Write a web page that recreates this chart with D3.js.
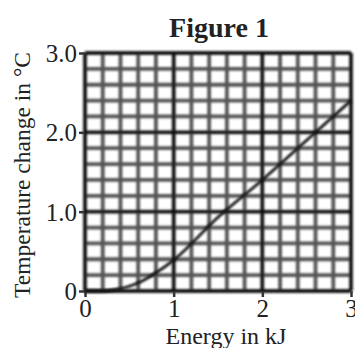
<!DOCTYPE html>
<html>
<head>
<meta charset="utf-8">
<script src="https://cdn.jsdelivr.net/npm/d3@7"></script>
<style>
body { margin: 0; background: #fff; }
text { font-family: "Liberation Serif", "DejaVu Serif", serif; fill: #222; }
</style>
</head>
<body>
<div id="chart"></div>
<script>
// values
var energy = [0, 0.2, 0.35, 0.5, 0.65, 0.8, 1.0, 1.5, 2.0, 2.5, 3.0];
var tempChange = [0, 0.0, 0.02, 0.06, 0.13, 0.23, 0.39, 0.93, 1.4, 1.9, 2.4];
var xTicks = [0, 1, 2, 3];
var yTicks = [0, 1, 2, 3];
var yTickLabels = ["0", "1.0", "2.0", "3.0"];

var totalWidth = 355, totalHeight = 348;
var margin = { top: 53, left: 85, bottom: 57, right: 4 };
var width = totalWidth - margin.left - margin.right;
var height = totalHeight - margin.top - margin.bottom;

var svg = d3.select("#chart").append("svg")
	.attr("width", totalWidth)
	.attr("height", totalHeight);

var defs = svg.append("defs");
defs.append("filter").attr("id", "soft")
	.append("feGaussianBlur").attr("stdDeviation", 1.0);

var g = svg.append("g")
	.attr("transform", "translate(" + margin.left + "," + margin.top + ")");

var xScale = d3.scaleLinear().domain([0, 3]).range([0, width]);
var yScale = d3.scaleLinear().domain([0, 3]).range([height, 0]);

var minorX = d3.range(0, 3.001, 0.2);
var minorY = d3.range(0, 3.001, 0.2);

var grid = g.append("g").attr("filter", "url(#soft)");

grid.selectAll(".vminor")
	.data(minorX)
	.enter().append("line")
	.attr("x1", d => xScale(d)).attr("x2", d => xScale(d))
	.attr("y1", 0).attr("y2", height)
	.attr("stroke", "#555")
	.attr("stroke-width", 3.8);

grid.selectAll(".hminor")
	.data(minorY)
	.enter().append("line")
	.attr("x1", 0).attr("x2", width)
	.attr("y1", d => yScale(d)).attr("y2", d => yScale(d))
	.attr("stroke", "#555")
	.attr("stroke-width", 3.8);

grid.selectAll(".vmajor")
	.data(xTicks)
	.enter().append("line")
	.attr("x1", d => xScale(d)).attr("x2", d => xScale(d))
	.attr("y1", 0).attr("y2", height)
	.attr("stroke", "#111")
	.attr("stroke-width", 3.4);

grid.selectAll(".hmajor")
	.data(yTicks)
	.enter().append("line")
	.attr("x1", 0).attr("x2", width)
	.attr("y1", d => yScale(d)).attr("y2", d => yScale(d))
	.attr("stroke", "#111")
	.attr("stroke-width", 3.4);

// axes
var xAxis = d3.axisBottom(xScale).tickValues(xTicks).tickSize(6).tickPadding(2)
	.tickFormat(d3.format("d"));
var yAxis = d3.axisLeft(yScale).tickValues(yTicks).tickSize(6).tickPadding(2)
	.tickFormat((d, i) => yTickLabels[i]);

var xAxisGroup = g.append("g")
	.attr("transform", "translate(0," + height + ")")
	.call(xAxis);
xAxisGroup.select(".domain").remove();
xAxisGroup.selectAll(".tick line").attr("stroke", "#333").attr("stroke-width", 2.5);
xAxisGroup.selectAll(".tick text")
	.attr("font-size", 25)
	.attr("font-family", "Liberation Serif")
	.attr("fill", "#222");

var yAxisGroup = g.append("g").call(yAxis);
yAxisGroup.select(".domain").remove();
yAxisGroup.selectAll(".tick line").attr("stroke", "#333").attr("stroke-width", 2.5);
yAxisGroup.selectAll(".tick text")
	.attr("font-size", 25)
	.attr("font-family", "Liberation Serif")
	.attr("fill", "#222")
	.attr("dy", "0.34em");

// curve
var line = d3.line()
	.x((d, i) => xScale(energy[i]))
	.y(d => yScale(d))
	.curve(d3.curveMonotoneX);

g.append("path")
	.datum(tempChange)
	.attr("d", line)
	.attr("fill", "none")
	.attr("stroke", "#111")
	.attr("stroke-width", 2.8)
	.attr("filter", "url(#soft)");

// titles
svg.append("text")
	.attr("x", 219).attr("y", 37)
	.attr("text-anchor", "middle")
	.attr("font-size", 28)
	.attr("font-weight", "bold")
	.text("Figure 1");

svg.append("text")
	.attr("x", 226).attr("y", 344)
	.attr("text-anchor", "middle")
	.attr("font-size", 24)
	.text("Energy in kJ");

svg.append("text")
	.attr("transform", "translate(30," + (margin.top + height / 2 + 3) + ") rotate(-90)")
	.attr("text-anchor", "middle")
	.attr("font-size", 23.5)
	.text("Temperature change  in °C");
</script>
</body>
</html>
